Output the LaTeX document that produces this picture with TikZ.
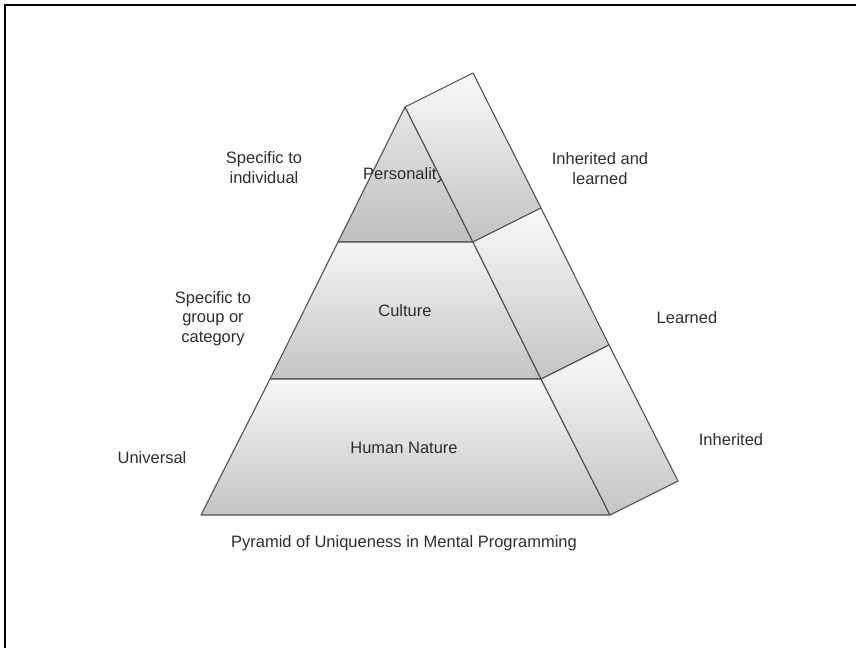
\documentclass[tikz,border=0pt]{standalone}
\usepackage{fontspec}
\setmainfont{Liberation Sans}
\begin{document}
\begin{tikzpicture}[x=1pt,y=-1pt,
  edge/.style={draw=black!68, line width=1.1pt, line join=round},
  band/.style={edge, top color=#1, bottom color=black!23},
  lbl/.style={font=\fontsize{16.5}{19.5}\selectfont, text=black!82,
    align=center, inner sep=0pt, anchor=base},
]
\useasboundingbox (0,0) rectangle (856,648);
\fill[white] (0,0) rectangle (856,648);
\draw[line width=2pt] (5,648) -- (5,5) -- (856,5);

% front face of the pyramid
\coordinate (A)  at (405,107);
\coordinate (L1) at (338,242);
\coordinate (R1) at (473,242);
\coordinate (L2) at (270,379);
\coordinate (R2) at (541,379);
\coordinate (BL) at (201,515);
\coordinate (BR) at (610,515);
% back edge of the right-hand face
\coordinate (Ab)  at (473,73);
\coordinate (R1b) at (541,208);
\coordinate (R2b) at (609,345);
\coordinate (BRb) at (678,481);

% three tiers
\path[band=black!10, bottom color=black!25] (A) -- (R1) -- (L1) -- cycle;
\path[band=black!4] (L1) -- (R1) -- (R2) -- (L2) -- cycle;
\path[band=black!3] (L2) -- (R2) -- (BR) -- (BL) -- cycle;

\node[lbl] (pers) at (404,179) {Personality};
\node[lbl] (cult) at (405,316) {Culture};
\node[lbl] (hum)  at (404,453) {Human Nature};

% slanted side face
\path[band=black!2, bottom color=black!24] (A) -- (Ab) -- (R1b) -- (R1) -- cycle;
\path[band=black!2] (R1) -- (R1b) -- (R2b) -- (R2) -- cycle;
\path[band=black!2] (R2) -- (R2b) -- (BRb) -- (BR) -- cycle;

% side labels (base anchor sits on the last line)
\node[lbl] (indiv) at (264,183) {Specific to\\individual};
\node[lbl] (group) at (213,342) {Specific to\\group or\\category};
\node[lbl] (univ)  at (152,463) {Universal};
\node[lbl] (inhl)  at (600,184) {Inherited and\\learned};
\node[lbl] (learn) at (687,323) {Learned};
\node[lbl] (inh)   at (731,445) {Inherited};
\node[lbl] (cap)   at (404,547) {Pyramid of Uniqueness in Mental Programming};
\end{tikzpicture}
\end{document}
